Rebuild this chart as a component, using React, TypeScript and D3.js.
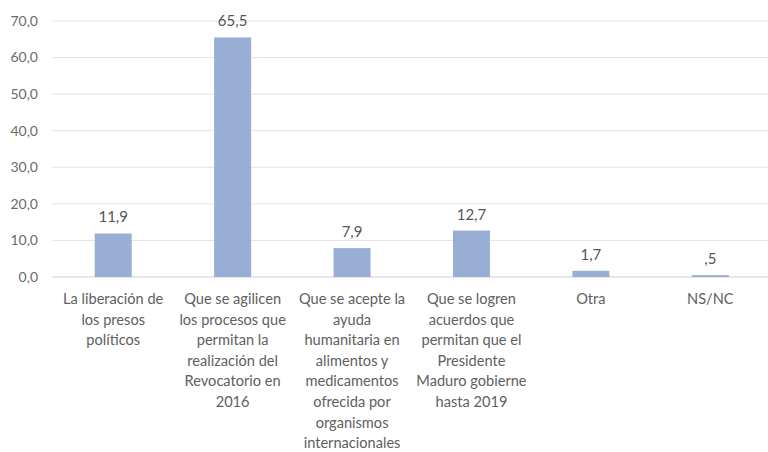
import React from "react";
import * as d3 from "d3";

const categories = [
  ["La liberación de", "los presos", "políticos"],
  ["Que se agilicen", "los procesos que", "permitan la", "realización del", "Revocatorio en", "2016"],
  ["Que se acepte la", "ayuda", "humanitaria en", "alimentos y", "medicamentos", "ofrecida por", "organismos", "internacionales"],
  ["Que se logren", "acuerdos que", "permitan que el", "Presidente", "Maduro gobierne", "hasta 2019"],
  ["Otra"],
  ["NS/NC"],
];
const values = [11.9, 65.5, 7.9, 12.7, 1.7, 0.5];
const valueLabels = ["11,9", "65,5", "7,9", "12,7", "1,7", ",5"];
const yTicks = [0, 10, 20, 30, 40, 50, 60, 70];

const W = 768;
const H = 452;
const FONT = "Lato, 'Open Sans', sans-serif";

export default function App() {
  const x = d3
    .scaleBand<number>()
    .domain(d3.range(values.length))
    .range([53.5, 770])
    .paddingInner(0.69)
    .paddingOuter(0.345);
  const y = d3.scaleLinear().domain([0, 70]).range([277, 21]);
  const fmt = (v: number) => v.toFixed(1).replace(".", ",");
  const left = 52;
  const right = 768;

  return (
    <svg width={W} height={H} style={{ position: "absolute", left: 0, top: 0, background: "#fff" }}>
      {yTicks.map((t) => (
        <g key={t}>
          <line x1={left} x2={right} y1={y(t)} y2={y(t)} stroke={t === 0 ? "#d0d0d0" : "#e3e3e3"} strokeWidth={1} />
          <text x={38} y={y(t)} dy="0.35em" textAnchor="end" fontFamily={FONT} fontSize={14} fill="#6a6a6a">
            {fmt(t)}
          </text>
        </g>
      ))}
      {values.map((v, i) => {
        const bx = x(i)!;
        const bw = x.bandwidth();
        return (
          <g key={i}>
            <rect x={bx} y={y(v)} width={bw} height={y(0) - y(v)} fill="#98aed5" />
            <text x={bx + bw / 2} y={y(v) - 11} textAnchor="middle" fontFamily={FONT} fontSize={15} fill="#555">
              {valueLabels[i]}
            </text>
          </g>
        );
      })}
      {categories.map((lines, i) => {
        const cx = x(i)! + x.bandwidth() / 2;
        return (
          <text key={i} textAnchor="middle" fontFamily={FONT} fontSize={14.6} fill="#606060">
            {lines.map((l, j) => (
              <tspan key={j} x={cx} y={304 + j * 20.6}>
                {l}
              </tspan>
            ))}
          </text>
        );
      })}
    </svg>
  );
}
